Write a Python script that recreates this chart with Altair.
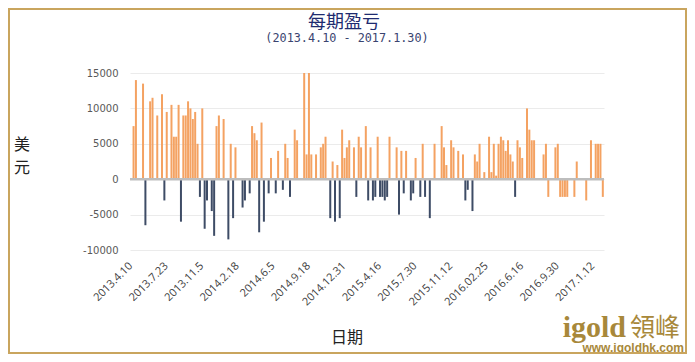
import altair as alt
import pandas as pd

# ---- data ----
profit_idx = [1, 2, 5, 8, 9, 11, 13, 15, 17, 18, 19, 20, 22, 23, 24, 25, 26, 27, 28, 30,
              36, 37, 39, 42, 44, 51, 52, 53, 55, 59, 62, 65, 66, 69, 70, 73, 74, 75, 76, 78,
              80, 81, 82, 85, 87, 89, 90, 91, 92, 94, 96, 97, 99, 101, 104, 109, 112, 114, 116, 120,
              123, 128, 131, 132, 133, 135, 136, 138, 140, 145, 146, 147, 149, 151, 152, 153, 154, 155, 156, 157,
              158, 159, 160, 161, 163, 164, 165, 167, 168, 169, 170, 174, 175, 176, 179, 180, 181, 182, 183, 184,
              187, 188, 192, 194, 196, 197, 198, 199]
profit_val = [7500, 14000, 13500, 11000, 11500, 9000, 12000, 9500, 10500, 6000, 6000, 10500, 9000, 9000, 11000, 10000, 8500, 9500, 5000, 10000,
              7500, 9000, 8500, 5000, 4500, 7500, 6500, 5500, 8000, 3000, 4000, 5000, 3000, 7000, 5500, 15000, 3500, 15000, 3500, 3500,
              4500, 5000, 6000, 2500, 2000, 7000, 3000, 4500, 5500, 4500, 6000, 4500, 7500, 4500, 6000, 6000, 4500, 4000, 4000, 3000,
              5000, 5000, 7500, 4500, 2000, 5500, 4500, 4000, 3500, 3500, 2500, 5000, 1000, 6000, 1000, 5000, 500, 5000, 6000, 5500,
              4000, 5500, 3500, 2500, 5500, 4500, 3000, 10000, 7000, 5500, 5500, 3500, 5000, -2500, 4500, 5000, -2500, -2500, -2500, -2500,
              -2500, 2500, -3000, 5500, 5000, 5000, 5000, -2500]

loss_idx = [6, 14, 21, 29, 31, 32, 34, 35, 41, 43, 47, 48, 50, 54, 56, 58, 61, 64, 67, 84,
            86, 88, 95, 100, 102, 103, 105, 106, 107, 108, 113, 115, 118, 119, 122, 124, 126, 141, 142, 144,
            162]
loss_val = [-6500, -3000, -6000, -2500, -7000, -3000, -4500, -8000, -8500, -5500, -4000, -3000, -2000, -7500, -6000, -2000, -2000, -1500, -2500, -5500,
            -6000, -5500, -2500, -3000, -3000, -2500, -2500, -2500, -3000, -2500, -5000, -2000, -3000, -2000, -2500, -2500, -5500, -3000, -1500, -4500,
            -2500]

tick_idx = [1, 16, 31, 46, 61, 76, 91, 106, 121, 136, 151, 166, 181, 196]
tick_labels = ["2013.4.10", "2013.7.23", "2013.11.5", "2014.2.18", "2014.6.5", "2014.9.18", "2014.12.31",
               "2015.4.16", "2015.7.30", "2015.11.12", "2016.02.25", "2016.6.16", "2016.9.30", "2017.1.12"]
y_ticks = [-10000, -5000, 0, 5000, 10000, 15000]

title_text = "每期盈亏"
subtitle_text = "(2013.4.10 - 2017.1.30)"
y_title = "美\n元"
x_title = "日期"

df = pd.DataFrame({
    "idx": profit_idx + loss_idx,
    "val": profit_val + loss_val,
    "series": ["profit"] * len(profit_idx) + ["loss"] * len(loss_idx),
})

label_expr = "[" + ",".join("'%s'" % t for t in tick_labels) + "][round((datum.value-1)/15)]"

x_scale = alt.Scale(domain=[-0.5, 199.5], nice=False, zero=False, padding=0)
y_scale = alt.Scale(domain=[-10000, 15000], nice=False, padding=0)
x_axis = alt.Axis(values=tick_idx, labelExpr=label_expr, labelAngle=-45,
                  labelAlign="right", labelBaseline="middle", labelPadding=14, labelOffset=-3,
                  labelOverlap=False, labelBound=False, labelFlush=False,
                  labelFont="Open Sans", labelFontSize=11, labelColor="#404040",
                  grid=False, domain=False, ticks=False, title=None)
y_axis = alt.Axis(values=y_ticks, labelExpr="'' + datum.value",
                  labelOverlap=False, labelBound=False, labelFlush=False,
                  labelFont="DejaVu Sans", labelFontSize=10, labelColor="#595959",
                  labelPadding=12, grid=True, gridColor="#EBEBEB", gridWidth=1,
                  domain=False, ticks=False, title=None)

bars = alt.Chart(df).mark_bar(size=2).encode(
    x=alt.X("idx:Q", scale=x_scale, axis=x_axis),
    y=alt.Y("val:Q", scale=y_scale, axis=y_axis),
    color=alt.Color("series:N",
                    scale=alt.Scale(domain=["profit", "loss"], range=["#F4A262", "#3E4C66"]),
                    legend=None),
)

zero = alt.Chart(pd.DataFrame({"z": [0]})).mark_rule(color="#BDBDBD", strokeWidth=2.5).encode(
    y=alt.Y("z:Q", scale=y_scale, axis=y_axis))


def label(text, x, y, **kw):
    return alt.Chart(pd.DataFrame({"t": [text]})).mark_text(**kw).encode(
        x=alt.value(x), y=alt.value(y), text="t:N")


title = label(title_text, 214, -50.5, font="Noto Sans CJK SC", fontSize=18, color="#1E2B70",
              align="center", baseline="middle")
subtitle = label(subtitle_text, 217, -35.5, font="DejaVu Sans Mono", fontSize=11.8, color="#3A4470",
                 align="center", baseline="middle")
ytitle = label(y_title, -108, 72, font="Noto Sans CJK SC", fontSize=16, color="#222222",
               align="center", baseline="middle", lineBreak="\n", lineHeight=23)
xtitle = label(x_title, 217, 265, font="Noto Sans CJK SC", fontSize=16, color="#222222",
               align="center", baseline="middle")
wm1 = label("igold", 496, 264, font="Liberation Serif", fontSize=30, fontWeight="bold",
            color="#A8883A", align="right", baseline="alphabetic")
wm2 = label("領峰", 500, 263, font="Noto Sans CJK TC", fontSize=25, color="#A8883A",
            align="left", baseline="alphabetic")
wm3 = label("www.igoldhk.com", 554, 279, font="Liberation Sans", fontSize=12, fontWeight="bold",
            color="#A8883A", align="right", baseline="alphabetic")

frame = alt.Chart(pd.DataFrame({"a": [0]})).mark_rect(
    filled=False, stroke="#C9A55E", strokeWidth=2).encode(
    x=alt.value(-121), x2=alt.value(556), y=alt.value(-64), y2=alt.value(280))

chart = alt.layer(bars, zero, title, subtitle, ytitle, xtitle, wm1, wm2, wm3, frame).properties(
    width=474, height=177,
    autosize=alt.AutoSizeParams(type="none"),
    padding={"left": 122, "top": 65, "right": 83, "bottom": 104},
    background="white",
).configure_view(stroke=None)

chart.save("out.html", embed_options={"renderer": "svg", "actions": False})
